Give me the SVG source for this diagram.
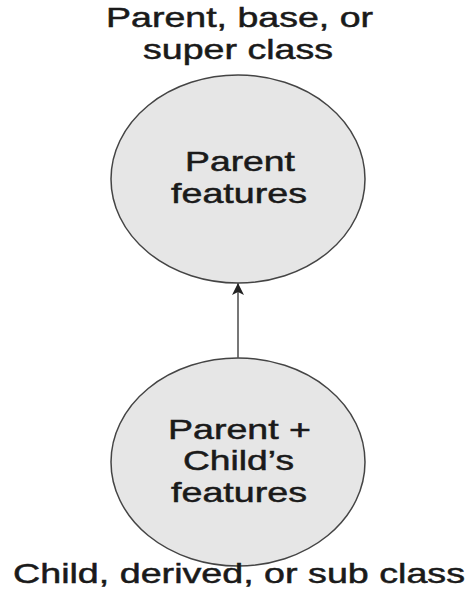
<svg xmlns="http://www.w3.org/2000/svg" width="471" height="600" viewBox="0 0 471 600">
<style>
text{font-family:"Liberation Sans",Arial,sans-serif;font-size:28px;fill:#1a1a1a;stroke:#1a1a1a;stroke-width:0.5;}
.node{fill:#e6e6e6;stroke:#444;stroke-width:1.5;}
.conn{stroke:#555;stroke-width:1.6;fill:none;}
</style>
<defs>
<marker id="arr" viewBox="0 0 12 12" refX="12" refY="6" markerWidth="12" markerHeight="12" markerUnits="userSpaceOnUse" orient="auto">
<path d="M0,0 L12,6 L0,12 L3,6 z" fill="#222"/>
</marker>
</defs>
<g id="label-parent">
<text x="106" y="27" textLength="267" lengthAdjust="spacingAndGlyphs">Parent, base, or</text>
<text x="143" y="59" textLength="190" lengthAdjust="spacingAndGlyphs">super class</text>
</g>
<g id="node-parent">
<ellipse class="node" cx="238" cy="179" rx="127" ry="104"/>
<text x="185" y="171" textLength="110" lengthAdjust="spacingAndGlyphs">Parent</text>
<text x="171" y="203" textLength="136" lengthAdjust="spacingAndGlyphs">features</text>
</g>
<g id="node-child">
<ellipse class="node" cx="238" cy="462" rx="127" ry="104"/>
<text x="168" y="439" textLength="143" lengthAdjust="spacingAndGlyphs">Parent +</text>
<text x="183" y="470" textLength="111" lengthAdjust="spacingAndGlyphs">Child’s</text>
<text x="171" y="502" textLength="136" lengthAdjust="spacingAndGlyphs">features</text>
</g>
<g id="label-child">
<text x="13" y="583" textLength="452" lengthAdjust="spacingAndGlyphs">Child, derived, or sub class</text>
</g>
<g id="connectors">
<line class="conn" x1="238" y1="358" x2="238" y2="283" marker-end="url(#arr)"/>
</g>
</svg>
